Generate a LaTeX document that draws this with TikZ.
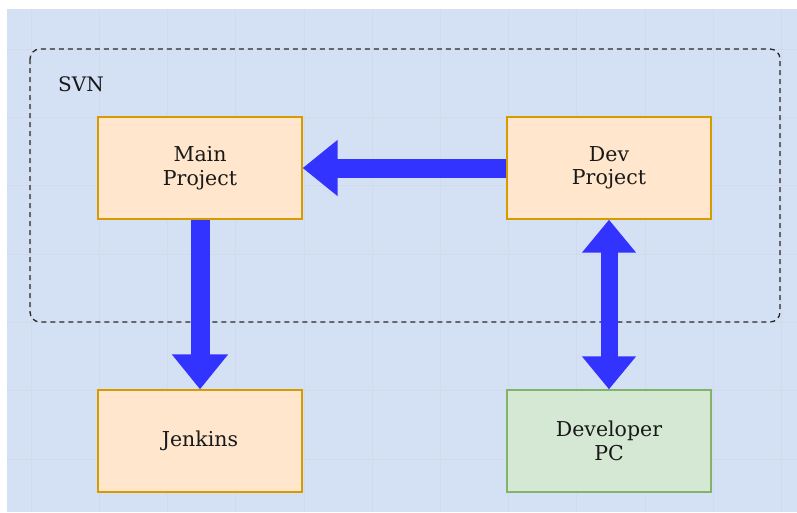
\documentclass[tikz,border=0pt]{standalone}
\usepackage{fontspec}
\setmainfont{DejaVu Serif}
\usetikzlibrary{arrows.meta}
\definecolor{bgblue}{RGB}{212,225,245}
\definecolor{gridc}{RGB}{209,219,236}
\definecolor{orfill}{RGB}{255,230,204}
\definecolor{ordraw}{RGB}{215,155,0}
\definecolor{grfill}{RGB}{213,232,212}
\definecolor{grdraw}{RGB}{130,179,102}
\definecolor{arrblue}{RGB}{51,51,255}
\definecolor{dashc}{RGB}{40,40,40}
\tikzset{
  box/.style={draw, line width=1.3pt, minimum width=204pt, minimum height=102pt, align=center, inner sep=0pt,
    font=\fontsize{20.5}{23.5}\selectfont, text=black!90},
  orbox/.style={box, fill=orfill, draw=ordraw},
  grbox/.style={box, fill=grfill, draw=grdraw},
  fatarrow/.style={draw=arrblue, line width=19pt, -{Triangle[length=35pt, width=54pt]}},
  dblarrow/.style={draw=arrblue, line width=17pt, {Triangle[length=33pt, width=52pt]}-{Triangle[length=33pt, width=52pt]}},
  groupbox/.style={draw=dashc, line width=1.3pt, dash pattern=on 5pt off 4pt, rounded corners=10pt}
}
\begin{document}
\begin{tikzpicture}[x=1pt, y=-1pt]
\useasboundingbox (0,0) rectangle (797,512);
\fill[white] (0,0) rectangle (797,512);
\fill[bgblue] (7,9) rectangle (797,512);
% faint grid
\foreach \gx in {0,...,11} {
  \draw[gridc, line width=0.5pt] ({31+\gx*68.2},9) -- ({31+\gx*68.2},512);
}
\foreach \gy in {0,...,6} {
  \draw[gridc, line width=0.5pt] (7,{49+\gy*68.3}) -- (797,{49+\gy*68.3});
}
% SVN group
\draw[groupbox] (30,49) rectangle (780,322);
\node[font=\fontsize{20}{23}\selectfont, text=black!90, inner sep=0pt] (svn) at (81,84) {SVN};
% boxes
\node[orbox] (main) at (200,168) {\raisebox{-2pt}{Main}\\\raisebox{-2pt}{Project}};
\node[orbox] (dev) at (609,168) {\raisebox{-2pt}{Dev}\\\raisebox{-2pt}{Project}};
\node[orbox] (jenkins) at (200,441) {Jenkins};
\node[grbox] (pc) at (609,441) {Developer\\PC};
% arrows
\draw[fatarrow] (dev.west) -- (main.east);
\draw[fatarrow] (main.south) -- (jenkins.north);
\draw[dblarrow] (dev.south) -- (pc.north);
\end{tikzpicture}
\end{document}
